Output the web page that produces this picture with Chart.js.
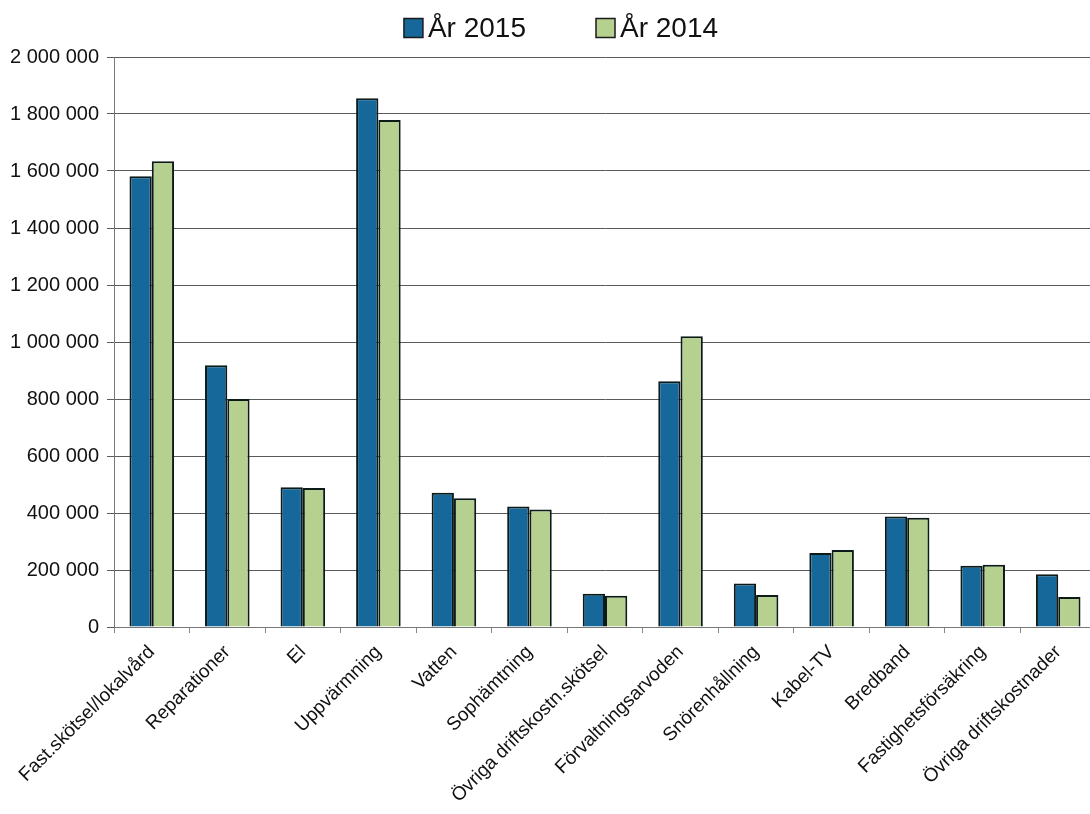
<!DOCTYPE html>
<html>
<head>
<meta charset="utf-8">
<script src="https://cdn.jsdelivr.net/npm/chart.js@4/dist/chart.umd.min.js"></script>
<style>
html,body{margin:0;padding:0;background:#fff;overflow:hidden;}
#wrap{width:1090px;height:814px;overflow:hidden;}
</style>
</head>
<body>
<div id="wrap"><canvas id="c" width="1096" height="814"></canvas></div>
<script>
const categories = ["Fast.skötsel/lokalvård","Reparationer","El","Uppvärmning","Vatten","Sophämtning","Övriga driftskostn.skötsel","Förvaltningsarvoden","Snörenhållning","Kabel-TV","Bredband","Fastighetsförsäkring","Övriga driftskostnader"];
const values2015 = [1582000, 918000, 490000, 1855000, 471000, 423000, 117000, 862000, 153000, 260000, 388000, 215000, 185000];
const values2014 = [1634000, 800000, 488000, 1779000, 452000, 412000, 110000, 1020000, 112000, 270000, 383000, 218000, 105000];
const seriesLabels = ["År 2015", "År 2014"];
const yTicks = [0, 200000, 400000, 600000, 800000, 1000000, 1200000, 1400000, 1600000, 1800000, 2000000];

const FONT = 'Liberation Sans, Arial, sans-serif';
const fmt = v => String(v).replace(/\B(?=(\d{3})+(?!\d))/g, " ");

// Legend drawn from the dataset labels/colours, laid out like the original
const topLegend = {
  id: 'topLegend',
  afterDraw(chart) {
    const ctx = chart.ctx;
    const ds = chart.data.datasets;
    const box = 19, gapText = 5, gapItem = 70, centerX = 561, centerY = 28;
    ctx.save();
    ctx.font = '28px ' + FONT;
    const widths = ds.map(d => ctx.measureText(d.label).width);
    let total = 0;
    widths.forEach((w, i) => { total += box + gapText + w + (i < ds.length - 1 ? gapItem : 0); });
    let x = centerX - total / 2;
    ds.forEach((d, i) => {
      ctx.fillStyle = d.backgroundColor;
      ctx.fillRect(x, centerY - box / 2, box, box);
      ctx.lineWidth = 1.5;
      ctx.strokeStyle = '#1a1a1a';
      ctx.strokeRect(x, centerY - box / 2, box, box);
      ctx.fillStyle = '#111';
      ctx.textBaseline = 'middle';
      ctx.textAlign = 'left';
      ctx.fillText(d.label, x + box + gapText, centerY + 1);
      x += box + gapText + widths[i] + gapItem;
    });
    ctx.restore();
  }
};

new Chart(document.getElementById('c'), {
  type: 'bar',
  data: {
    labels: categories,
    datasets: [
      {label: seriesLabels[0], data: values2015, backgroundColor: '#16689a', borderColor: '#0d1a1a', borderWidth: 2, borderSkipped: 'bottom'},
      {label: seriesLabels[1], data: values2014, backgroundColor: '#b6d08f', borderColor: '#0d1a1a', borderWidth: 2, borderSkipped: 'bottom'}
    ]
  },
  plugins: [topLegend],
  options: {
    responsive: false,
    animation: false,
    layout: {padding: {left: 0, right: 0, top: 57, bottom: 0}},
    datasets: {bar: {categoryPercentage: 0.59, barPercentage: 1.0}},
    plugins: {
      legend: {display: false},
      tooltip: {enabled: false}
    },
    scales: {
      x: {
        grid: {display: true, drawOnChartArea: false, drawTicks: true, tickLength: 6, color: '#888', offset: true},
        border: {display: true, color: '#777', width: 1},
        ticks: {
          font: {family: FONT, size: 19},
          color: '#111', maxRotation: 45, minRotation: 45, autoSkip: false, padding: 8
        },
        afterFit: s => { s.height = 187; }
      },
      y: {
        min: 0, max: 2000000,
        afterBuildTicks: s => { s.ticks = yTicks.map(v => ({value: v})); },
        grid: {color: '#5a5a5a', lineWidth: 1, tickLength: 7, drawTicks: true},
        border: {display: true, color: '#777', width: 1},
        ticks: {
          font: {family: FONT, size: 20},
          color: '#111', padding: 8,
          callback: v => fmt(v)
        },
        afterFit: s => { s.width = 114; }
      }
    }
  }
});
</script>
</body>
</html>
